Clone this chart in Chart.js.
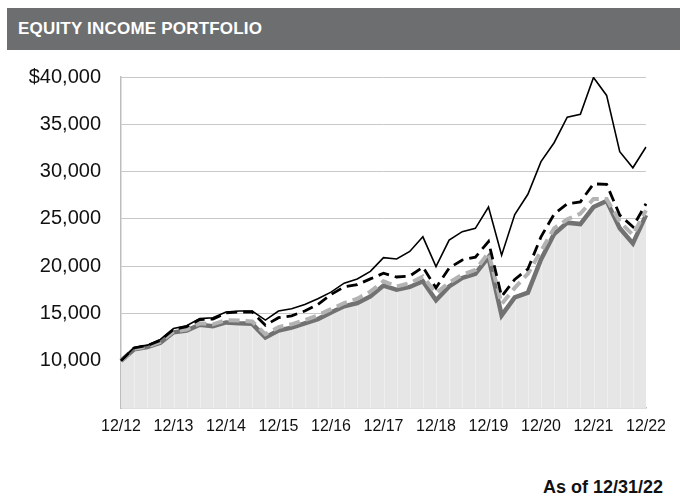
<!DOCTYPE html>
<html>
<head>
<meta charset="utf-8">
<script src="https://cdn.jsdelivr.net/npm/chart.js@4"></script>
<style>
  html, body { margin: 0; padding: 0; background: #fff; }
  body { width: 680px; height: 498px; position: relative; overflow: hidden; font-family: 'Liberation Sans', Arial, sans-serif; }
  .title-bar {
    position: absolute; left: 7px; top: 8px; width: 673px; height: 42px;
    background: #6d6e70; color: #fff; font-weight: bold; font-size: 17px;
    letter-spacing: 0.2px; line-height: 42px; padding-left: 11px; box-sizing: border-box;
  }
  .chart-box { position: absolute; left: 0; top: 45px; width: 680px; height: 395px; }
  .as-of { position: absolute; right: 17px; top: 477px; font-weight: bold; font-size: 18px; color: #111; }
</style>
</head>
<body>
<div class="title-bar">EQUITY INCOME PORTFOLIO</div>
<div class="chart-box"><canvas id="growth"></canvas></div>
<div class="as-of">As of 12/31/22</div>
<script>
const quarters = [
  '12/12', '3/13', '6/13', '9/13', '12/13', '3/14', '6/14', '9/14', '12/14',
  '3/15', '6/15', '9/15', '12/15', '3/16', '6/16', '9/16', '12/16',
  '3/17', '6/17', '9/17', '12/17', '3/18', '6/18', '9/18', '12/18',
  '3/19', '6/19', '9/19', '12/19', '3/20', '6/20', '9/20', '12/20',
  '3/21', '6/21', '9/21', '12/21', '3/22', '6/22', '9/22', '12/22'
]

// solid black
const seriesA = [
  10000, 11400, 11650, 12250, 13400, 13700, 14450, 14550, 15150,
  15250, 15250, 14300, 15250, 15500, 15950, 16550, 17250,
  18200, 18650, 19450, 20900, 20750, 21550, 23100, 19950,
  22750, 23650, 24000, 26250, 21150, 25450, 27600, 31050,
  33050, 35750, 36050, 39950, 38050, 32100, 30400, 32600
]
// black dashed
const seriesB = [
  10000, 11350, 11600, 12150, 13300, 13600, 14350, 14400, 15050,
  15150, 15150, 13750, 14550, 14750, 15250, 15950, 17000,
  17800, 18050, 18650, 19250, 18850, 18950, 19900, 17700,
  19800, 20650, 20950, 22600, 16800, 18600, 19700, 23100,
  25500, 26600, 26800, 28700, 28650, 25400, 24150, 26600
]
// light gray dashed
const seriesC = [
  10000, 11250, 11500, 12000, 13100, 13300, 13950, 13850, 14300,
  14250, 14150, 12800, 13550, 13850, 14300, 14800, 15450,
  16100, 16550, 17300, 18400, 17850, 18200, 18900, 17150,
  18250, 19100, 19600, 21400, 16000, 17700, 19200, 21600,
  24000, 24950, 25550, 27100, 27100, 24700, 23300, 25900
]
// dark gray, filled
const seriesD = [
  10000, 11200, 11450, 11900, 13000, 13200, 13800, 13650, 14050,
  13950, 13900, 12450, 13200, 13500, 13950, 14400, 15100,
  15750, 16100, 16800, 17950, 17500, 17800, 18400, 16400,
  17850, 18750, 19200, 20950, 14800, 16700, 17200, 20700,
  23400, 24600, 24450, 26250, 26900, 24000, 22400, 25400
]

const yTicks = [10000, 15000, 20000, 25000, 30000, 35000, 40000]

// faint vertical seams inside the filled area
const fillSeams = {
  id: 'fillSeams',
  beforeDatasetDraw (chart, args) {
    if (args.index !== 3) return
    const { ctx, scales: { x, y } } = chart
    ctx.save()
    ctx.strokeStyle = '#efefef'
    ctx.lineWidth = 1
    seriesD.forEach((v, i) => {
      if (i === 0 || i === seriesD.length - 1) return
      const px = Math.round(x.getPixelForValue(i)) + 0.5
      ctx.beginPath()
      ctx.moveTo(px, y.bottom)
      ctx.lineTo(px, y.getPixelForValue(v) + 3)
      ctx.stroke()
    })
    ctx.restore()
  }
}

const ctx = document.getElementById('growth')
const chart = new Chart(ctx, {
  type: 'line',
  data: {
    labels: quarters,
    datasets: [
      { data: seriesA, borderColor: '#000', borderWidth: 1.6, order: 1 },
      { data: seriesB, borderColor: '#000', borderWidth: 2.8, borderDash: [11, 6], order: 2 },
      { data: seriesC, borderColor: '#b3b3b3', borderWidth: 4, borderDash: [11, 6], order: 3 },
      { data: seriesD, borderColor: '#727272', borderWidth: 4.5, fill: 'start', backgroundColor: '#e6e6e6', order: 4 }
    ]
  },
  options: {
    responsive: true,
    maintainAspectRatio: false,
    animation: false,
    layout: { padding: { top: 2, right: 34, bottom: 0, left: 0 } },
    elements: {
      point: { radius: 0 },
      line: { tension: 0 }
    },
    plugins: {
      legend: { display: false },
      tooltip: { enabled: false }
    },
    scales: {
      x: {
        offset: false,
        grid: { display: false, drawTicks: false },
        border: { display: true, color: '#bdbdbd', width: 1.5 },
        ticks: {
          autoSkip: false,
          maxRotation: 0,
          padding: 9,
          color: '#111',
          font: { family: "'Liberation Sans', Arial, sans-serif", size: 16 },
          callback: (val, i) => (i % 4 === 0 ? quarters[i] : null)
        },
        afterFit: (axis) => { axis.height = 32 }
      },
      y: {
        min: 5000,
        max: 40000,
        afterBuildTicks: (axis) => { axis.ticks = yTicks.map(v => ({ value: v })) },
        grid: { color: '#c8c8c8', lineWidth: 1, drawTicks: false },
        border: { display: true, color: '#bdbdbd', width: 1.5 },
        ticks: {
          padding: 20,
          color: '#111',
          font: { family: "'Liberation Sans', Arial, sans-serif", size: 20 },
          callback: (v) => (v === 40000 ? '$40,000' : v.toLocaleString('en-US'))
        },
        afterFit: (axis) => { axis.width = 121 }
      }
    }
  },
  plugins: [fillSeams]
})
</script>
</body>
</html>
